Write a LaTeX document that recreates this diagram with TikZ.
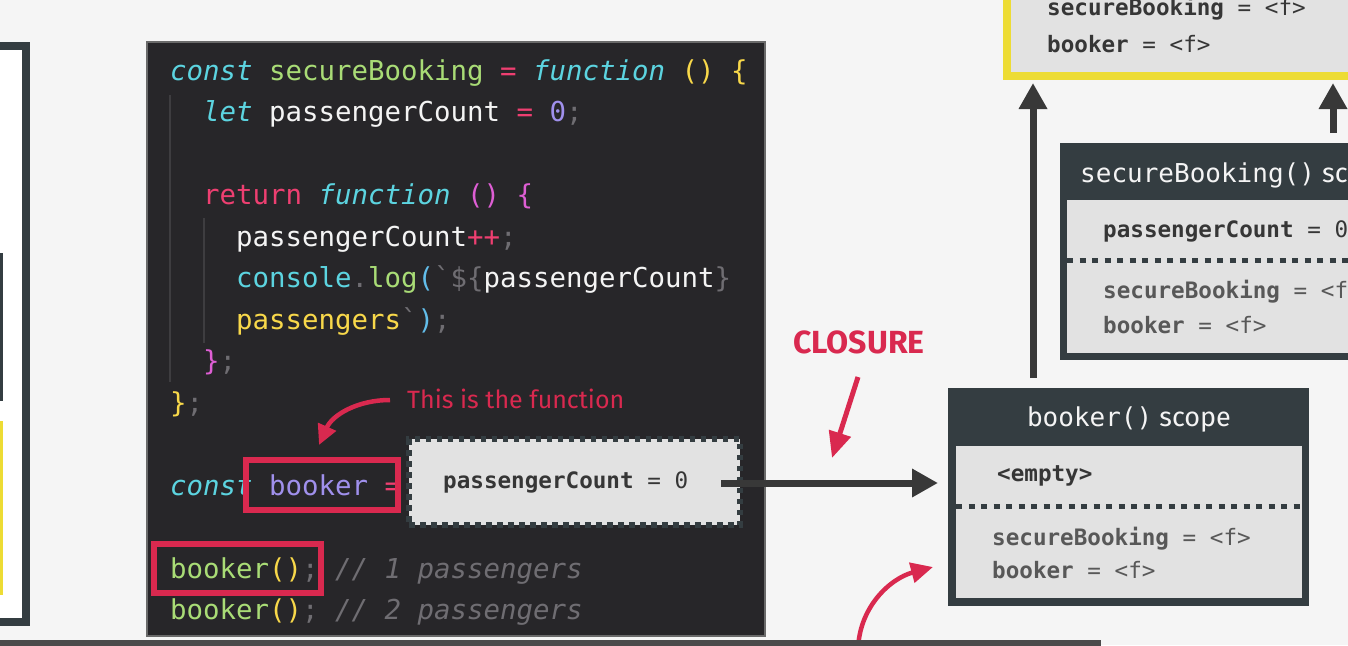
\documentclass[tikz,border=0pt]{standalone}
\usepackage{fontspec}
\setmainfont{Fira Sans}
\setsansfont{Fira Sans}
\setmonofont{DejaVu Sans Mono}
\usetikzlibrary{arrows.meta}
\definecolor{bgc}{HTML}{F5F5F5}
\definecolor{slate}{HTML}{343D41}
\definecolor{panel}{HTML}{E2E2E2}
\definecolor{ylw}{HTML}{EDDC34}
\definecolor{redc}{HTML}{D9294F}
\definecolor{codebg}{HTML}{272629}
\definecolor{codeedge}{HTML}{6A6A6A}
\definecolor{guide}{HTML}{3E3D40}
\definecolor{arrowc}{HTML}{383838}
\definecolor{floorline}{HTML}{4B4B4B}
\definecolor{ccyan}{HTML}{5CD4E0}
\definecolor{cgreen}{HTML}{A9DC76}
\definecolor{cpink}{HTML}{EE3F71}
\definecolor{cyel}{HTML}{F8D84A}
\definecolor{cpurp}{HTML}{A090EC}
\definecolor{cmag}{HTML}{DE5ED4}
\definecolor{cblue}{HTML}{62BDEA}
\definecolor{cgray}{HTML}{6F6D72}
\definecolor{cwhite}{HTML}{F4F4F4}
\definecolor{vdark}{HTML}{363636}
\definecolor{vgray}{HTML}{585858}
\newcommand{\ctok}[2]{\textcolor{#1}{#2}}
\begin{document}
\begin{tikzpicture}[x=1pt,y=-1pt,
  box/.style={inner sep=0pt, outer sep=0pt},
  codeline/.style={anchor=base west, inner sep=0pt, font=\ttfamily\fontsize{27.4}{30}\selectfont},
  pvar/.style={anchor=base west, inner sep=0pt, font=\ttfamily\fontsize{22.6}{26}\selectfont},
  hdr/.style={inner sep=0pt, text=cwhite, font=\fontsize{27}{30}\selectfont},
  dotline/.style={draw=slate, line width=5pt, dash pattern=on 6pt off 6.5pt},
  bigarrow/.style={draw=arrowc, line width=7pt, -{Triangle[length=26pt,width=27pt]}},
  redarrow/.style={draw=redc, line width=5pt, -{Triangle[length=26pt,width=22pt]}},
  smallred/.style={draw=redc, line width=4.5pt, -{Triangle[length=20pt,width=19pt]}},
  redbox/.style={box, draw=redc, line width=6pt},
  redlabel/.style={inner sep=0pt, text=redc}]
\useasboundingbox (0,0) rectangle (1348,645);
\fill[bgc] (0,0) rectangle (1348,645);
\clip (0,0) rectangle (1348,645);

% left partial box
\node[box, draw=slate, line width=8pt, fill=white, minimum width=80pt, minimum height=576pt, anchor=north east] (leftbox) at (26,46) {};
\fill[slate] (-5,253) rectangle (3,401);
\fill[ylw] (-5,421) rectangle (3,595);

% code box
\node[box, draw=codeedge, line width=1.2pt, fill=codebg, minimum width=618pt, minimum height=594pt, anchor=north west] (code) at (147,42) {};
\draw[guide, line width=1.5pt] (170,95) -- (170,382);
\draw[guide, line width=1.5pt] (204,218) -- (204,343);

\node[codeline] (l0) at (170,80) {\ctok{ccyan}{\itshape const} \ctok{cgreen}{secureBooking} \ctok{cpink}{=} \ctok{ccyan}{\itshape function} \ctok{cyel}{() \{}};
\node[codeline] (l1) at (203,121.5) {\ctok{ccyan}{\itshape let} \ctok{cwhite}{passengerCount} \ctok{cpink}{=} \ctok{cpurp}{0}\ctok{cgray}{;}};
\node[codeline] (l3) at (203,204.5) {\ctok{cpink}{return} \ctok{ccyan}{\itshape function} \ctok{cmag}{() \{}};
\node[codeline] (l4) at (236,246) {\ctok{cwhite}{passengerCount}\ctok{cpink}{++}\ctok{cgray}{;}};
\node[codeline] (l5) at (236,287.5) {\ctok{ccyan}{console}\ctok{cgray}{.}\ctok{cgreen}{log}\ctok{cblue}{(}\ctok{cgray}{`\$\{}\ctok{cwhite}{passengerCount}\ctok{cgray}{\}}};
\node[codeline] (l6) at (236,329) {\ctok{cyel}{passengers}\ctok{cgray}{`}\ctok{cblue}{)}\ctok{cgray}{;}};
\node[codeline] (l7) at (203,370.5) {\ctok{cmag}{\}}\ctok{cgray}{;}};
\node[codeline] (l8) at (170,412) {\ctok{cyel}{\}}\ctok{cgray}{;}};
\node[codeline] (l10) at (170,495) {\ctok{ccyan}{\itshape const} \ctok{cpurp}{booker} \ctok{cpink}{=}};
\node[codeline] (l12) at (170,578) {\ctok{cgreen}{booker}\ctok{cyel}{()}\ctok{cgray}{;} \ctok{cgray}{\itshape // 1 passengers}};
\node[codeline] (l13) at (170,619.5) {\ctok{cgreen}{booker}\ctok{cyel}{()}\ctok{cgray}{;} \ctok{cgray}{\itshape // 2 passengers}};

% red highlight boxes
\node[redbox, minimum width=152pt, minimum height=50pt, anchor=north west] (rb1) at (246,460) {};
\node[redbox, minimum width=167pt, minimum height=49pt, anchor=north west] (rb2) at (154,544) {};

% dashed closure box
\node[box, draw=slate, fill=panel, line width=5.5pt, dash pattern=on 5.5pt off 5.5pt, minimum width=331pt, minimum height=86pt, anchor=north west] (clo) at (409,439) {};
\node[pvar, text=vdark] (clotext) at (443,488) {\textbf{passengerCount} = 0};

% "This is the function"
\node[redlabel, anchor=base west, font=\fontsize{25}{28}\selectfont] (thisis) at (407,408) {This is the function};
\coordinate (tstart) at (390,400);
\coordinate (tend) at (319,445);
\draw[smallred] (tstart) to[out=180,in=66] (tend);

% global scope box (yellow)
\node[box, draw=ylw, line width=8pt, fill=panel, minimum width=420pt, minimum height=140pt, anchor=south west] (global) at (1007,76) {};
\node[pvar, text=vdark] (g1) at (1047,15) {\textbf{secureBooking} = <f>};
\node[pvar, text=vdark] (g2) at (1047,52) {\textbf{booker} = <f>};

% secureBooking() scope
\node[box, fill=slate, minimum width=320pt, minimum height=217pt, anchor=north west] (sb) at (1060,143) {};
\node[box, fill=panel, minimum width=320pt, minimum height=153pt, anchor=north west] (sbp) at (1067,200) {};
\node[hdr, anchor=base west] (sbh) at (1080,182) {{\ttfamily\fontsize{26}{28}\selectfont secureBooking()} scope};
\node[pvar, text=vdark] (s1) at (1103,237) {\textbf{passengerCount} = 0};
\draw[dotline] (1067,260) -- (1348,260);
\node[pvar, text=vgray] (s2) at (1103,298) {\textbf{secureBooking} = <f>};
\node[pvar, text=vgray] (s3) at (1103,333) {\textbf{booker} = <f>};

% booker() scope
\node[box, fill=slate, minimum width=361pt, minimum height=218pt, anchor=north west] (booker) at (948,388) {};
\node[box, fill=panel, minimum width=346pt, minimum height=152pt, anchor=north west] (bp) at (956,446) {};
\node[hdr, anchor=base] (bh) at (1129,426) {{\ttfamily\fontsize{26}{28}\selectfont booker()} scope};
\node[pvar, text=vdark] (b0) at (997,481) {\textbf{<empty>}};
\draw[dotline] (956,506) -- (1302,506);
\node[pvar, text=vgray] (b1) at (992,545) {\textbf{secureBooking} = <f>};
\node[pvar, text=vgray] (b2) at (992,578) {\textbf{booker} = <f>};

% dark arrows
\coordinate (pcend) at (721,483);
\draw[bigarrow, shorten >=10pt] (pcend) -- (pcend -| booker.west);
\coordinate (upA) at (1033,378);
\draw[bigarrow, shorten >=7pt] (upA) -- (upA |- global.south);
\coordinate (upB) at (1333,133);
\draw[bigarrow, shorten >=7pt] (upB) -- (upB |- global.south);

% CLOSURE
\node[redlabel, anchor=base, font=\bfseries\fontsize{32}{34}\selectfont] (closure) at (859,353) {CLOSURE};
\coordinate (cA) at (858,377);
\coordinate (cB) at (832,458);
\draw[redarrow] (cA) -- (cB);

% bottom curved arrow
\coordinate (bA) at (858,652);
\coordinate (bB) at (933,567);
\draw[redarrow, line width=4.5pt, -{Triangle[length=22pt,width=20pt]}] (bA) to[out=90,in=195] (bB);

% bottom line
\fill[floorline] (0,640) rectangle (1101,646);
\end{tikzpicture}
\end{document}
